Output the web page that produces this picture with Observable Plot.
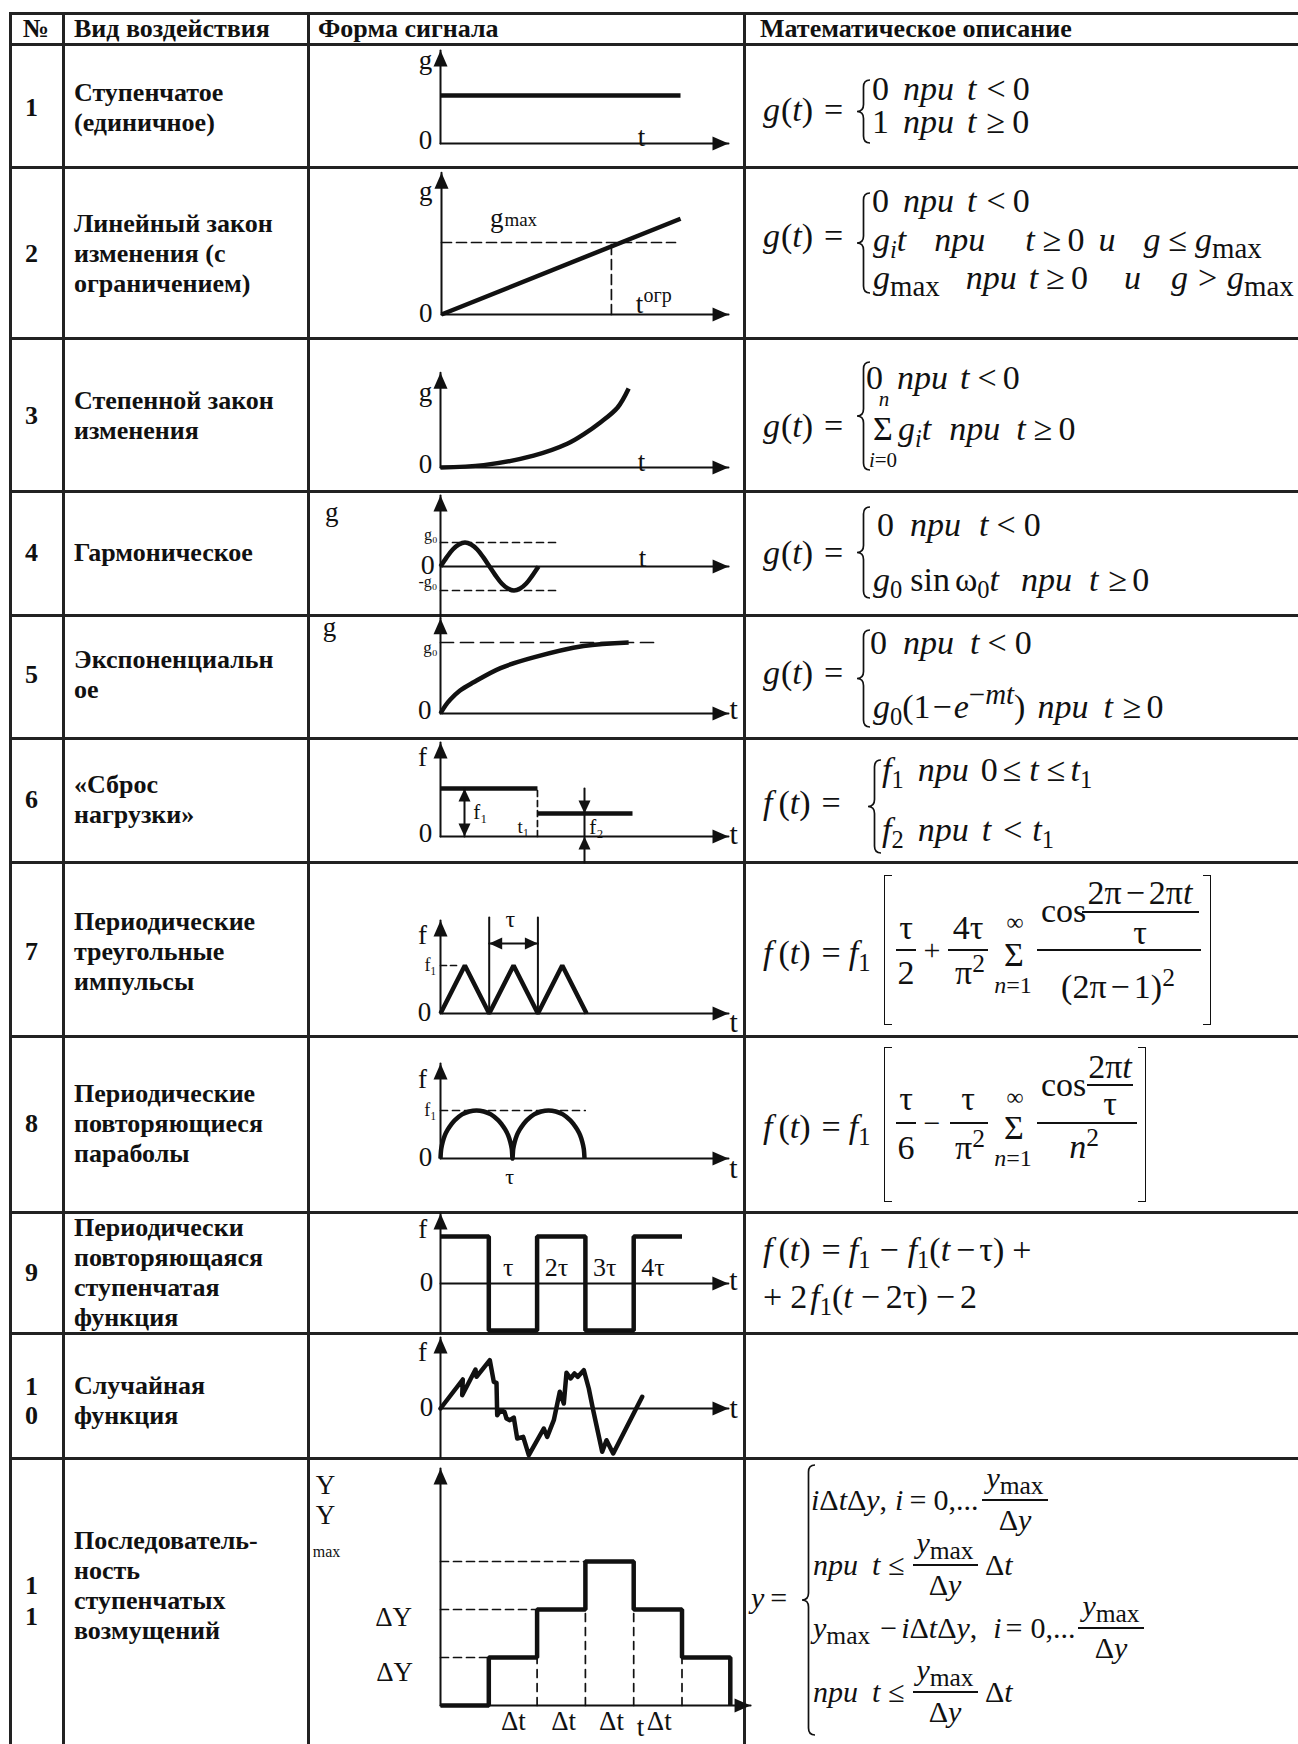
<!DOCTYPE html>
<html lang="ru">
<head>
<meta charset="utf-8">
<title>Виды воздействий</title>
<script src="https://cdn.jsdelivr.net/npm/d3@7"></script>
<script src="https://cdn.jsdelivr.net/npm/@observablehq/plot@0.6"></script>
<style>
html,body{margin:0;padding:0;background:#fff;}
body{width:1298px;height:1744px;overflow:hidden;}
#page{position:relative;width:1298px;height:1744px;overflow:hidden;font-family:"Liberation Serif","Times New Roman",serif;color:#111;background:#fff;}
.rule{position:absolute;background:#222;}
.cell{position:absolute;white-space:nowrap;font-weight:bold;font-size:26px;line-height:1;transform:translateY(-50%);}
.m{position:absolute;white-space:nowrap;line-height:1;transform:translateY(-50%);font-size:34px;}
.m i{font-style:italic;}
.sb{font-size:0.72em;position:relative;top:0.28em;}
.sbm{font-size:0.85em;position:relative;top:0.25em;}
.sp{font-size:0.75em;position:relative;top:-0.48em;}
.bar{position:absolute;height:1.6px;background:#111;}
.brk{position:absolute;border:1.6px solid #111;width:8px;box-sizing:border-box;}
</style>
</head>
<body>
<div id="page"></div>
<script>
// ---------------- table content ----------------
const headers = ["№", "Вид воздействия", "Форма сигнала", "Математическое описание"];
const rowNumbers = ["1", "2", "3", "4", "5", "6", "7", "8", "9", "10", "11"];
const rowNames = [
  ["Ступенчатое", "(единичное)"],
  ["Линейный закон", "изменения  (с", "ограничением)"],
  ["Степенной закон", "изменения"],
  ["Гармоническое"],
  ["Экспоненциальн", "ое"],
  ["«Сброс", "нагрузки»"],
  ["Периодические", "треугольные", "импульсы"],
  ["Периодические", "повторяющиеся", "параболы"],
  ["Периодически", "повторяющаяся", "ступенчатая", "функция"],
  ["Случайная", "функция"],
  ["Последователь-", "ность", "ступенчатых", "возмущений"]
];

// ---------------- signal series ----------------
// 1: unit step
const stepT = [0, 5];
const stepG = [1, 1];
// 2: linear ramp with limit
const rampT = [0, 4.98];
const rampG = [0, 1.33];
const gmaxLevel = 1;
const tLimit = 3.54;
// 3: power law
const powerT = [0, 0.9, 1.94, 2.64, 2.98, 3.33, 3.69, 3.92];
const powerG = [0, 0.03, 0.15, 0.30, 0.42, 0.57, 0.76, 1.0];
// 4: harmonic (one period)
const sineT = [0, 0.0625, 0.125, 0.1875, 0.25, 0.3125, 0.375, 0.4375, 0.5, 0.5625, 0.625, 0.6875, 0.75, 0.8125, 0.875, 0.9375, 1];
const sineG = [0, 0.38, 0.71, 0.92, 1, 0.92, 0.71, 0.38, 0, -0.38, -0.71, -0.92, -1, -0.92, -0.71, -0.38, 0];
const sineAmp = 1;
const sineGuideEnd = 1.21;
// 5: exponential
const expT = [0, 0.1, 0.21, 0.4, 0.69, 1.25, 1.94, 2.98, 3.92];
const expG = [0, 0.11, 0.2, 0.32, 0.44, 0.64, 0.79, 0.95, 1.0];
const expGuideEnd = 4.44;
// 6: load drop
const dropT1 = 2.02, dropTEnd = 4.0;
const dropF1 = 1, dropF2 = 0.48;
// 7: triangular pulses
const triT = [0, 1, 2, 3, 4, 5, 6];
const triF = [0, 1, 0, 1, 0, 1, 0];
// 8: repeated parabolas
const archT = [0, 0.01, 0.03, 0.06, 0.1, 0.15, 0.2, 0.3, 0.4, 0.5, 0.6, 0.7, 0.8, 0.85, 0.9, 0.94, 0.97, 0.99, 1,
               1.01, 1.03, 1.06, 1.1, 1.15, 1.2, 1.3, 1.4, 1.5, 1.6, 1.7, 1.8, 1.85, 1.9, 1.94, 1.97, 1.99, 2];
const archF = [0, 0.2, 0.34, 0.48, 0.6, 0.71, 0.8, 0.92, 0.98, 1, 0.98, 0.92, 0.8, 0.71, 0.6, 0.48, 0.34, 0.2, 0,
               0.2, 0.34, 0.48, 0.6, 0.71, 0.8, 0.92, 0.98, 1, 0.98, 0.92, 0.8, 0.71, 0.6, 0.48, 0.34, 0.2, 0];
// 9: periodic step function
const squareT = [0, 1, 1, 2, 2, 3, 3, 4, 4, 5];
const squareF = [1, 1, -1, -1, 1, 1, -1, -1, 1, 1];
const squareTicks = ["τ", "2τ", "3τ", "4τ"];
// 10: random function
const randT = [0, 22.3, 21.7, 35, 36, 49.3, 53.3, 56, 56.7, 60, 64, 66, 69.3, 73.3, 76.7, 82.7, 88.3, 103.3, 106.7, 113.3, 119.3, 123.3, 126, 130, 134, 137.3, 143.3, 148.3, 152.7, 161.7, 166, 172.7, 201.7];
const randF = [0, 29, 13.3, 39, 31.7, 48.3, 26.7, 25.7, -6.7, -1.7, -3.3, -10, -11.7, -9, -30, -28.3, -46.7, -20, -28.3, -11.7, 16.7, 5, 35.7, 30, 35, 31.7, 38.3, 20, -1.7, -43.3, -31.7, -45, 11.7];
// 11: sequence of step disturbances
const stairT = [0, 1, 1, 2, 2, 3, 3, 4, 4, 5, 5, 6, 6];
const stairY = [0, 0, 1, 1, 2, 2, 3, 3, 2, 2, 1, 1, 0];

// ---------------- layout ----------------
const rowEdges = [13, 44, 167, 338, 491, 615, 738, 862, 1036, 1212, 1333, 1458, 1800];
const colEdges = [10, 63, 308, 744, 1320];
const rowCenters = [108, 254, 416, 553, 675, 800, 952, 1124, 1273, 1401, 1586];
const numCenters = [108, 254, 416, 553, 675, 800, 952, 1124, 1273, 1401, 1601];
const INK = "#111";
const SERIF = '"Liberation Serif", "Times New Roman", serif';
const page = document.getElementById("page");

function rule(x, y, w, h) {
  const d = document.createElement("div");
  d.className = "rule";
  Object.assign(d.style, {left: x + "px", top: y + "px", width: w + "px", height: h + "px"});
  page.appendChild(d);
}
rowEdges.slice(0, -1).forEach(y => rule(colEdges[0] - 1.5, y - 1.5, colEdges[4] - colEdges[0] + 3, 3));
colEdges.slice(0, -1).forEach(x => rule(x - 1.5, rowEdges[0] - 1.5, 3, rowEdges[rowEdges.length - 1] - rowEdges[0]));

function cellText(txt, x, cy, center = false) {
  const d = document.createElement("div");
  d.className = "cell";
  d.textContent = txt;
  d.style.left = x + "px";
  d.style.top = cy + "px";
  if (center) d.style.transform = "translate(-50%,-50%)";
  page.appendChild(d);
}
// header
cellText(headers[0], 36, 29, true);
cellText(headers[1], 74, 29);
cellText(headers[2], 318, 29);
cellText(headers[3], 760, 29);
// numbers and names
rowNumbers.forEach((n, i) => {
  const chars = n.length > 1 ? n.split("") : [n];
  const sp = i === 10 ? 31 : 29;
  chars.forEach((c, k) => cellText(c, 25, numCenters[i] + (k - (chars.length - 1) / 2) * sp));
});
rowNames.forEach((lines, i) => {
  lines.forEach((ln, k) => cellText(ln, 74, rowCenters[i] + (k - (lines.length - 1) / 2) * 30));
});

// ---------------- sketches with Plot ----------------
const pts = (xs, ys) => xs.map((x, i) => [x, ys[i]]);
const arrowHead = (dx, dy, len = 16, half = 7) => ({
  draw(ctx) {
    const bx = -dx * len, by = -dy * len;
    const px = -dy * half, py = dx * half;
    ctx.moveTo(0, 0);
    ctx.lineTo(bx + px, by + py);
    ctx.lineTo(bx - px, by - py);
    ctx.closePath();
  }
});
const UP = arrowHead(0, -1), RIGHT = arrowHead(1, 0);
const sUP = arrowHead(0, -1, 13, 6), sDOWN = arrowHead(0, 1, 13, 6);
const sLEFT = arrowHead(-1, 0, 13, 6), sRIGHT = arrowHead(1, 0, 13, 6);

function head(p, sym) { return Plot.dot([p], {symbol: sym, r: 6, fill: INK, stroke: "none"}); }
function axes(xEnd, yTop, yBottom = 0) {
  return [
    Plot.line([[0, yBottom], [0, yTop]], {stroke: INK, strokeWidth: 2}),
    Plot.line([[0, 0], [xEnd, 0]], {stroke: INK, strokeWidth: 2}),
    head([0, yTop], UP),
    head([xEnd, 0], RIGHT)
  ];
}
function labels(list) {
  return list.map(l => Plot.text([l], {
    x: "t", y: "v", text: "s",
    fontSize: l.size || 27, fontFamily: SERIF,
    textAnchor: l.anchor || "middle", lineAnchor: "middle",
    dy: l.dy || 0, fill: INK
  }));
}
const thick = {stroke: INK, strokeWidth: 4.5, strokeLinecap: "butt", strokeLinejoin: "miter"};
const thin = {stroke: INK, strokeWidth: 2};
const dash = (arr) => ({stroke: INK, strokeWidth: 1.7, strokeDasharray: arr});

function sketch(rowIndex, origin, ux, uy, marks) {
  const top = rowEdges[rowIndex + 1], height = rowEdges[rowIndex + 2] - top;
  const left = colEdges[2], width = colEdges[3] - left;
  const [ox, oy] = origin;
  const svg = Plot.plot({
    width, height, margin: 0,
    style: {background: "none", overflow: "visible"},
    x: {type: "linear", domain: [0, 1], range: [ox - left, ox - left + ux], axis: null},
    y: {type: "linear", domain: [0, 1], range: [oy - top, oy - top - uy], axis: null},
    marks
  });
  svg.style.position = "absolute";
  svg.style.left = left + "px";
  svg.style.top = top + "px";
  page.appendChild(svg);
}

// 1
sketch(0, [440, 143], 48, 48, [
  ...axes(6, 1.94),
  Plot.line(pts(stepT, stepG), thick),
  ...labels([{t: -0.31, v: 1.62, s: "g", dy: -5}, {t: -0.31, v: 0.06, s: "0"}, {t: 4.19, v: 0.13, s: "t"}])
]);
// 2
sketch(1, [441, 314], 48, 72, [
  ...axes(5.98, 1.97),
  Plot.line([[0, gmaxLevel], [4.875, gmaxLevel]], dash("10,5")),
  Plot.line([[tLimit, 0], [tLimit, gmaxLevel]], dash("10,5")),
  Plot.line(pts(rampT, rampG), thick),
  ...labels([
    {t: -0.33, v: 1.64, s: "g", dy: -5},
    {t: 1.15, v: 1.26, s: "g", dy: -5},
    {t: 1.31, v: 1.28, s: "max", size: 19, anchor: "start", dy: -2},
    {t: -0.33, v: 0.01, s: "0"},
    {t: 4.125, v: 0.14, s: "t"},
    {t: 4.21, v: 0.24, s: "огр", size: 20, anchor: "start", dy: -2}
  ])
]);
// 3
sketch(2, [440, 467], 48, 79, [
  ...axes(6, 1.2),
  Plot.line(pts(powerT, powerG), {...thick, curve: "catmull-rom"}),
  ...labels([{t: -0.31, v: 0.89, s: "g", dy: -5}, {t: -0.31, v: 0.04, s: "0"}, {t: 4.19, v: 0.06, s: "t"}])
]);
// 4
sketch(3, [440, 566], 98, 24, [
  ...axes(2.94, 2.96, -2.1),
  Plot.line([[0, sineAmp], [sineGuideEnd, sineAmp]], dash("7,5")),
  Plot.line([[0, -sineAmp], [sineGuideEnd, -sineAmp]], dash("7,5")),
  Plot.line(pts(sineT, sineG), {...thick, curve: "catmull-rom"}),
  ...labels([
    {t: -1.11, v: 2.04, s: "g", dy: -5},
    {t: -0.10, v: 1.2, s: "g₀", size: 16, dy: -3},
    {t: -0.13, v: 0.05, s: "0", size: 28},
    {t: -0.128, v: -0.75, s: "-g₀", size: 16, dy: -3},
    {t: 2.06, v: 0.33, s: "t"}
  ])
]);
// 5
sketch(4, [440, 713], 48, 71, [
  ...axes(6, 1.34),
  Plot.line([[0, 1], [expGuideEnd, 1]], dash("13,7")),
  Plot.line(pts(expT, expG), {...thick, curve: "catmull-rom"}),
  ...labels([
    {t: -2.31, v: 1.14, s: "g", dy: -5},
    {t: -0.21, v: 0.89, s: "g₀", size: 17, dy: -3},
    {t: -0.33, v: 0.04, s: "0"},
    {t: 6.02, v: 0.06, s: "t", anchor: "start", size: 30}
  ])
]);
// 6
sketch(5, [440, 836], 48, 48, [
  ...axes(6, 1.96),
  Plot.line([[dropT1, 0], [dropT1, dropF1]], dash("6,4")),
  Plot.line([[0, dropF1], [dropT1, dropF1]], thick),
  Plot.line([[dropT1, dropF2], [dropTEnd, dropF2]], thick),
  Plot.line([[0.5, 0], [0.5, dropF1]], thin),
  head([0.5, dropF1], sUP), head([0.5, 0], sDOWN),
  Plot.line([[3, 1.0], [3, -0.54]], thin),
  head([3, dropF2], sDOWN), head([3, 0], sUP),
  ...labels([
    {t: -0.375, v: 1.65, s: "f"},
    {t: -0.31, v: 0.06, s: "0"},
    {t: 0.83, v: 0.5, s: "f₁", size: 21},
    {t: 1.73, v: 0.19, s: "t₁", size: 19},
    {t: 3.25, v: 0.19, s: "f₂", size: 21},
    {t: 6.02, v: 0.04, s: "t", anchor: "start", size: 30}
  ])
]);
// 7
sketch(6, [440, 1013], 24.35, 48, [
  ...axes(11.83, 1.94),
  Plot.line([[0, 1], [0.75, 1]], dash("6,4")),
  Plot.line([[2, 0], [2, 2.0]], thin),
  Plot.line([[4, 0], [4, 2.0]], thin),
  Plot.line([[2, 1.46], [4, 1.46]], thin),
  head([2, 1.46], sLEFT), head([4, 1.46], sRIGHT),
  Plot.line(pts(triT, triF), thick),
  ...labels([
    {t: 2.87, v: 1.92, s: "τ", size: 24, dy: -2},
    {t: -0.74, v: 1.63, s: "f"},
    {t: -0.41, v: 1.0, s: "f₁", size: 18},
    {t: -0.66, v: 0.02, s: "0"},
    {t: 11.87, v: -0.19, s: "t", anchor: "start", size: 30}
  ])
]);
// 8
sketch(7, [440, 1158], 72, 48, [
  ...axes(4.0, 1.98),
  Plot.line([[0, 1], [2.01, 1]], dash("7,5")),
  Plot.line(pts(archT, archF), {...thick, curve: "catmull-rom"}),
  ...labels([
    {t: -0.25, v: 1.65, s: "f"},
    {t: -0.14, v: 1.0, s: "f₁", size: 18},
    {t: -0.21, v: 0.02, s: "0"},
    {t: 0.96, v: -0.42, s: "τ", size: 22, dy: -2},
    {t: 4.01, v: -0.21, s: "t", anchor: "start", size: 30}
  ])
]);
// 9
sketch(8, [440, 1283], 48.3, 47, [
  ...axes(5.96, 1.49, -1.06),
  Plot.line(pts(squareT, squareF), thick),
  ...labels([
    {t: -0.37, v: 1.15, s: "f"},
    {t: -0.29, v: 0.02, s: "0"},
    ...squareTicks.map((s, i) => ({t: 1.40 + i, v: 0.32, s, size: 26, dy: -1})),
    {t: 5.98, v: 0.06, s: "t", anchor: "start", size: 30}
  ])
]);
// 10
sketch(9, [440, 1408], 1, 1, [
  ...axes(288, 71, -49),
  Plot.line(pts(randT, randF), {stroke: INK, strokeWidth: 4.5, strokeLinejoin: "round"}),
  ...labels([
    {t: -18, v: 56, s: "f"},
    {t: -14, v: 1, s: "0"},
    {t: 289, v: 0, s: "t", anchor: "start", size: 30}
  ])
]);
// 11
sketch(10, [440, 1705], 48.3, 48, [
  ...axes(6.42, 4.94),
  Plot.line([[0, 1], [1, 1]], dash("8,5")),
  Plot.line([[0, 2], [2, 2]], dash("8,5")),
  Plot.line([[0, 3], [3, 3]], dash("8,5")),
  Plot.line([[2, 0], [2, 1]], dash("8,6")),
  Plot.line([[3, 0], [3, 2]], dash("8,6")),
  Plot.line([[4, 0], [4, 2]], dash("8,6")),
  Plot.line([[5, 0], [5, 1]], dash("8,6")),
  Plot.line(pts(stairT, stairY), thick),
  ...labels([
    {t: -2.38, v: 4.58, s: "Y"},
    {t: -2.38, v: 3.96, s: "Y"},
    {t: -2.36, v: 3.17, s: "max", size: 16, dy: -1},
    {t: -0.97, v: 1.83, s: "ΔY"},
    {t: -0.95, v: 0.69, s: "ΔY"},
    {t: 1.51, v: -0.33, s: "Δt"},
    {t: 2.55, v: -0.33, s: "Δt"},
    {t: 3.54, v: -0.33, s: "Δt"},
    {t: 4.14, v: -0.46, s: "t"},
    {t: 4.53, v: -0.33, s: "Δt"}
  ])
]);

// ---------------- formulas ----------------
const it = s => `<i>${s}</i>`;
const sb = s => `<span class="sb">${s}</span>`;
const sbm = s => `<span class="sbm">${s}</span>`;
const sp = s => `<span class="sp">${s}</span>`;
const gap = n => `<span style="display:inline-block;width:${n}px"></span>`;

function put(html, x, cy, size, center) {
  const d = document.createElement("div");
  d.className = "m";
  d.innerHTML = html;
  d.style.left = x + "px";
  d.style.top = cy + "px";
  if (size) d.style.fontSize = size + "px";
  if (center) d.style.transform = "translate(-50%,-50%)";
  page.appendChild(d);
  return d;
}
function bar(x1, x2, y) {
  const d = document.createElement("div");
  d.className = "bar";
  Object.assign(d.style, {left: x1 + "px", top: (y - 0.8) + "px", width: (x2 - x1) + "px"});
  page.appendChild(d);
}
function bracket(x, y1, y2, side) {
  const d = document.createElement("div");
  d.className = "brk";
  Object.assign(d.style, {left: x + "px", top: y1 + "px", height: (y2 - y1) + "px"});
  if (side === "left") d.style.borderRight = "none"; else d.style.borderLeft = "none";
  page.appendChild(d);
}
function brace(x, y1, y2) {
  const w = 13, r = 7;
  const H = y2 - y1;
  const svg = d3.create("svg")
    .attr("width", w + 4).attr("height", H + 4)
    .style("position", "absolute").style("left", (x - 2) + "px").style("top", (y1 - 2) + "px")
    .style("overflow", "visible");
  const X = 2, Y1 = 2, Y2 = H + 2, YM = (Y1 + Y2) / 2, xm = X + w * 0.5;
  const p = d3.path();
  p.moveTo(X + w, Y1);
  p.quadraticCurveTo(xm, Y1, xm, Y1 + r);
  p.lineTo(xm, YM - r);
  p.quadraticCurveTo(xm, YM, X, YM);
  p.quadraticCurveTo(xm, YM, xm, YM + r);
  p.lineTo(xm, Y2 - r);
  p.quadraticCurveTo(xm, Y2, X + w, Y2);
  svg.append("path").attr("d", p.toString()).attr("fill", "none").attr("stroke", INK).attr("stroke-width", 1.7);
  page.appendChild(svg.node());
}
const LHSg = `${it("g")}${gap(1)}(${it("t")})${gap(11)}=`;
const LHSf = `${it("f")}${gap(6)}(${it("t")})${gap(11)}=`;
const P = it("при");

// row 1
put(LHSg, 763, 110);
brace(857, 80, 143);
put(`0${gap(14)}${P}${gap(13)}${it("t")}${gap(10)}&lt;${gap(7)}0`, 872, 89);
put(`1${gap(14)}${P}${gap(13)}${it("t")}${gap(10)}≥${gap(7)}0`, 872, 122);
// row 2
put(LHSg, 763, 236);
brace(857, 193, 293);
put(`0${gap(14)}${P}${gap(13)}${it("t")}${gap(10)}&lt;${gap(7)}0`, 872, 201);
put(`${it("g")}${sb(it("i"))}${it("t")}${gap(28)}${P}${gap(40)}${it("t")}${gap(8)}≥${gap(6)}0${gap(14)}${it("и")}${gap(28)}${it("g")}${gap(8)}≤${gap(8)}${it("g")}${sbm("max")}`, 873, 240);
put(`${it("g")}${sbm("max")}${gap(26)}${P}${gap(12)}${it("t")}${gap(8)}≥${gap(6)}0${gap(36)}${it("и")}${gap(30)}${it("g")}${gap(10)}&gt;${gap(10)}${it("g")}${sbm("max")}`, 873, 278);
// row 3
put(LHSg, 763, 426);
brace(857, 362, 470);
put(`0${gap(14)}${P}${gap(12)}${it("t")}${gap(8)}&lt;${gap(6)}0`, 866, 378);
put(it("n"), 884, 399, 21, true);
put("Σ", 873, 429);
put(`${it("g")}${sb(it("i"))}${it("t")}${gap(18)}${P}${gap(16)}${it("t")}${gap(8)}≥${gap(6)}0`, 898, 429);
put(`${it("i")}=0`, 883, 460, 21, true);
// row 4
put(LHSg, 763, 553);
brace(857, 507, 598);
put(`0${gap(16)}${P}${gap(18)}${it("t")}${gap(8)}&lt;${gap(8)}0`, 877, 525);
put(`${it("g")}${sb("0")}${gap(8)}sin${gap(5)}ω${sb("0")}${it("t")}${gap(22)}${P}${gap(17)}${it("t")}${gap(10)}≥${gap(5)}0`, 873, 580);
// row 5
put(LHSg, 763, 673);
brace(857, 630, 727);
put(`0${gap(16)}${P}${gap(16)}${it("t")}${gap(8)}&lt;${gap(8)}0`, 870, 643);
put(`${it("g")}${sb("0")}(1${gap(2)}−${gap(2)}${it("e")}<span class="sp" style="font-size:0.85em">−${it("mt")}</span>)${gap(12)}${P}${gap(15)}${it("t")}${gap(10)}≥${gap(5)}0`, 873, 707);
// row 6
put(LHSf, 763, 803);
brace(868, 760, 853);
put(`${it("f")}${sb("1")}${gap(14)}${P}${gap(12)}0${gap(5)}≤${gap(8)}${it("t")}${gap(8)}≤${gap(5)}${it("t")}${sb("1")}`, 882, 770);
put(`${it("f")}${sb("2")}${gap(14)}${P}${gap(13)}${it("t")}${gap(12)}&lt;${gap(10)}${it("t")}${sb("1")}`, 882, 830);
// row 7
put(`${LHSf}${gap(8)}${it("f")}${sb("1")}`, 763, 953);
bracket(884, 875, 1025, "left");
bracket(1203, 875, 1025, "right");
put("τ", 906, 928, 34, true); bar(896, 916, 950); put("2", 906, 973, 34, true);
put("+", 932, 950, 30, true);
put("4τ", 968, 928, 34, true); bar(948, 988, 950); put(`π${sp("2")}`, 970, 973, 34, true);
put("∞", 1015, 922, 24, true); put("Σ", 1014, 955, 34, true); put(`${it("n")}=1`, 1013, 985, 24, true);
bar(1037, 1201, 950);
put("cos", 1041, 911);
bar(1082, 1199, 912);
put(`2π${gap(4)}−${gap(4)}2π${it("t")}`, 1140, 893, 34, true);
put("τ", 1140, 933, 34, true);
put(`(2π${gap(4)}−${gap(4)}1)${sp("2")}`, 1118, 987, 34, true);
// row 8
put(`${LHSf}${gap(8)}${it("f")}${sb("1")}`, 763, 1127);
bracket(884, 1047, 1202, "left");
bracket(1138, 1047, 1202, "right");
put("τ", 906, 1099, 34, true); bar(896, 916, 1123); put("6", 906, 1148, 34, true);
put("−", 932, 1123, 30, true);
put("τ", 968, 1099, 34, true); bar(950, 988, 1123); put(`π${sp("2")}`, 970, 1148, 34, true);
put("∞", 1015, 1097, 24, true); put("Σ", 1014, 1128, 34, true); put(`${it("n")}=1`, 1013, 1158, 24, true);
bar(1037, 1137, 1123);
put("cos", 1041, 1085);
bar(1087, 1133, 1085);
put(`2π${it("t")}`, 1110, 1067, 34, true);
put("τ", 1110, 1104, 34, true);
put(`${it("n")}${sp("2")}`, 1084, 1147, 34, true);
// row 9
put(`${LHSf}${gap(8)}${it("f")}${sb("1")}${gap(9)}−${gap(9)}${it("f")}${sb("1")}(${it("t")}${gap(6)}−${gap(4)}τ)${gap(8)}+`, 763, 1250);
put(`+${gap(8)}2${gap(3)}${it("f")}${sb("1")}(${it("t")}${gap(8)}−${gap(6)}2τ)${gap(8)}−${gap(5)}2`, 763, 1297);
// row 11
const Y = `${it("y")}${sbm("max")}`;
put(`${it("y")}${gap(6)}=`, 751, 1598, 30);
brace(802, 1465, 1735);
put(`${it("i")}Δ${it("t")}Δ${it("y")},${gap(8)}${it("i")}${gap(6)}=${gap(7)}0,...`, 811, 1500, 30);
put(Y, 1015, 1478, 30, true); bar(982, 1048, 1500); put(`Δ${it("y")}`, 1015, 1520, 30, true);
[1565, 1692].forEach(by => {
  put(`${P}${gap(14)}${it("t")}${gap(8)}≤`, 813, by, 30);
  put(Y, 945, by - 22, 30, true); bar(913, 978, by); put(`Δ${it("y")}`, 945, by + 20, 30, true);
  put(`Δ${it("t")}`, 985, by, 30);
});
put(`${Y}${gap(10)}−${gap(4)}${it("i")}Δ${it("t")}Δ${it("y")},${gap(16)}${it("i")}${gap(4)}=${gap(8)}0,...`, 813, 1628, 30);
put(Y, 1111, 1606, 30, true); bar(1078, 1144, 1628); put(`Δ${it("y")}`, 1111, 1648, 30, true);
</script>
</body>
</html>
